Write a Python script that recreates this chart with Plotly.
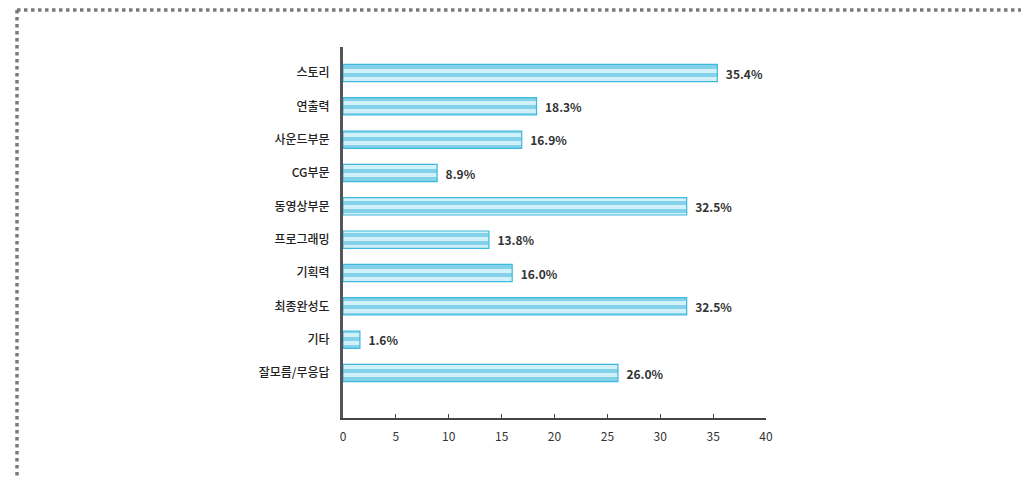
import plotly.graph_objects as go

categories = ["스토리", "연출력", "사운드부문", "CG부문", "동영상부문",
              "프로그래밍", "기획력", "최종완성도", "기타", "잘모름/무응답"]
values = [35.4, 18.3, 16.9, 8.9, 32.5, 13.8, 16.0, 32.5, 1.6, 26.0]
x_ticks = [0, 5, 10, 15, 20, 25, 30, 35, 40]

W, H = 1021, 478
L, R, T, B = 343, 255, 47, 60
pw, ph = W - L - R, H - T - B

def px_x(p):
    return (p - L) / pw

def px_y(p):
    return (H - B - p) / ph

fig = go.Figure()
fig.add_trace(go.Bar(
    y=categories, x=values, orientation="h", width=0.52,
    marker=dict(color="#d2f0f9", line=dict(color="#3db8de", width=1.2),
                pattern=dict(shape="-", fgcolor="#33b3dc", size=8, solidity=0.5)),
    text=[f"\u00a0\u00a0{v:.1f}%" for v in values], textposition="outside",
    textfont=dict(family="Noto Sans CJK KR", size=12, color="#333333", weight=600),
    cliponaxis=False,
))

# dotted frame along the top and left edges
frame = dict(color="#7a7a7a", width=3.5, dash="dot")
fig.add_shape(type="line", xref="paper", yref="paper",
              x0=px_x(17), x1=px_x(17), y0=px_y(10), y1=px_y(H + 5), line=frame)
fig.add_shape(type="line", xref="paper", yref="paper",
              x0=px_x(17), x1=px_x(W + 5), y0=px_y(10), y1=px_y(10), line=frame)

fig.update_layout(
    width=W, height=H, margin=dict(l=L, r=R, t=T, b=B),
    paper_bgcolor="white", plot_bgcolor="white", showlegend=False,
    font=dict(family="Noto Sans CJK KR", size=12, color="#333333"),
    xaxis=dict(range=[0, 40], tickvals=x_ticks, showgrid=False, zeroline=False,
               showline=True, linecolor="#444444", linewidth=2,
               ticks="inside", ticklen=4, tickcolor="#444444",
               ticklabelstandoff=7,
               tickfont=dict(size=12, color="#333333")),
    yaxis=dict(range=[10.35, -0.78], showgrid=False, zeroline=False,
               showline=True, linecolor="#555555", linewidth=3,
               ticks="", ticklabelstandoff=8,
               tickfont=dict(size=12, color="#222222", weight=500)),
)

fig.write_html("out.html")
